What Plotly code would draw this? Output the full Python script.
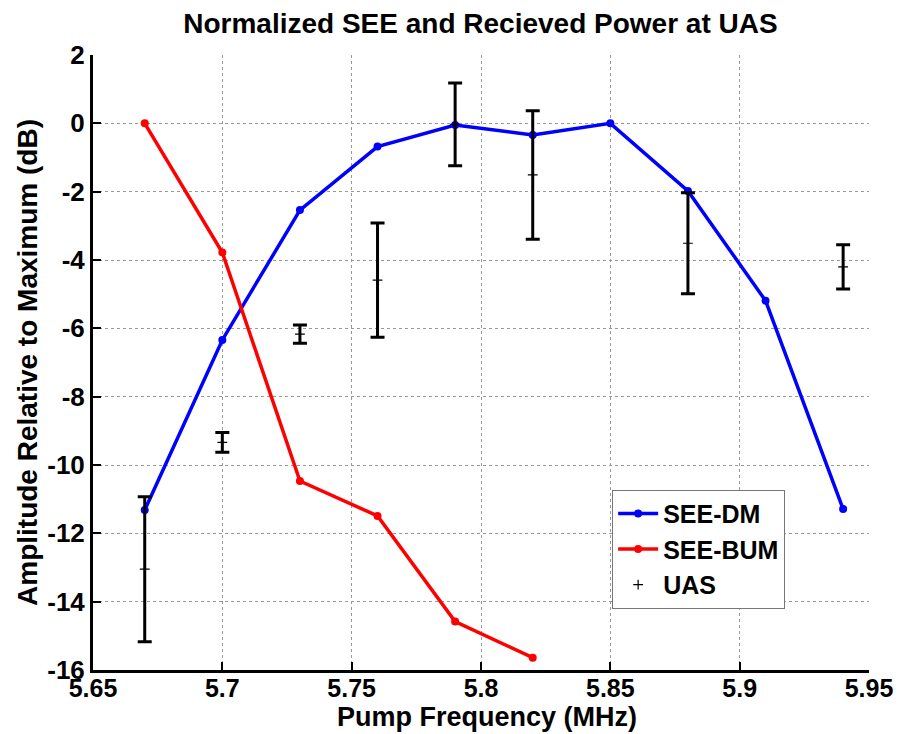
import plotly.graph_objects as go

freq_dm = [5.67, 5.70, 5.73, 5.76, 5.79, 5.82, 5.85, 5.88, 5.91, 5.94]
see_dm = [-11.32, -6.34, -2.54, -0.68, -0.05, -0.34, 0.0, -1.98, -5.19, -11.29]

freq_bum = [5.67, 5.70, 5.73, 5.76, 5.79, 5.82]
see_bum = [0.0, -3.78, -10.47, -11.49, -14.58, -15.64]

freq_uas = [5.67, 5.70, 5.73, 5.76, 5.79, 5.82, 5.88, 5.94]
uas = [-13.05, -9.34, -6.17, -4.59, -0.03, -1.51, -3.51, -4.2]
uas_err = [2.12, 0.29, 0.27, 1.67, 1.21, 1.88, 1.48, 0.65]

x_ticks = [5.65, 5.70, 5.75, 5.80, 5.85, 5.90, 5.95]
x_tick_labels = ["5.65", "5.7", "5.75", "5.8", "5.85", "5.9", "5.95"]
y_ticks = [2, 0, -2, -4, -6, -8, -10, -12, -14, -16]
y_tick_labels = ["2", "0", "-2", "-4", "-6", "-8", "-10", "-12", "-14", "-16"]

FONT = "Liberation Sans"

def f(size):
    return dict(family=FONT, size=size, color="black", weight="bold")

fig = go.Figure()
fig.add_trace(go.Scatter(
    x=freq_dm, y=see_dm, mode="lines+markers", name="SEE-DM",
    line=dict(color="#0000ff", width=3.5), marker=dict(color="#0000ff", size=8),
))
fig.add_trace(go.Scatter(
    x=freq_bum, y=see_bum, mode="lines+markers", name="SEE-BUM",
    line=dict(color="#ff0000", width=3.5), marker=dict(color="#ff0000", size=8),
))
fig.add_trace(go.Scatter(
    x=freq_uas, y=uas, mode="markers", name="UAS",
    marker=dict(symbol="cross-thin", size=7, color="black", line=dict(color="black", width=1.2)),
    error_y=dict(type="data", array=uas_err, visible=True, color="black", thickness=3, width=7),
))

fig.update_layout(
    width=898, height=734,
    margin=dict(l=93, r=29, t=55, b=64),
    paper_bgcolor="white", plot_bgcolor="white",
    title=dict(text="Normalized SEE and Recieved Power at UAS", x=0.535, xanchor="center",
               y=0.969, yanchor="middle", font=f(28)),
    font=f(26),
    showlegend=True,
    legend=dict(x=0.669, y=0.293, xanchor="left", yanchor="top",
                bgcolor="white", bordercolor="#777777", borderwidth=1,
                font=f(25), itemwidth=40, tracegroupgap=0),
    annotations=[dict(
        text="Pump Frequency (MHz)", xref="paper", yref="paper",
        x=0.508, y=-0.0764, xanchor="center", yanchor="middle",
        showarrow=False, font=f(27),
    )],
)
fig.update_xaxes(
    range=[5.65, 5.95], tickvals=x_ticks, ticktext=x_tick_labels,
    showgrid=True, gridcolor="#999999", griddash="dot", gridwidth=1,
    showline=True, linecolor="black", linewidth=3, mirror=False,
    ticks="inside", ticklen=8, tickwidth=2, tickcolor="black",
    zeroline=False, automargin=False, ticklabelstandoff=-6,
    tickfont=f(25),
)
fig.update_yaxes(
    range=[-16, 2], tickvals=y_ticks, ticktext=y_tick_labels,
    showgrid=True, gridcolor="#999999", griddash="dot", gridwidth=1,
    showline=True, linecolor="black", linewidth=3, mirror=False,
    ticks="inside", ticklen=8, tickwidth=2, tickcolor="black",
    zeroline=False, automargin=False,
    title=dict(text="Amplitude Relative to Maximum (dB)", standoff=2, font=f(28)),
    tickfont=f(26),
)

fig.write_html("out.html")
